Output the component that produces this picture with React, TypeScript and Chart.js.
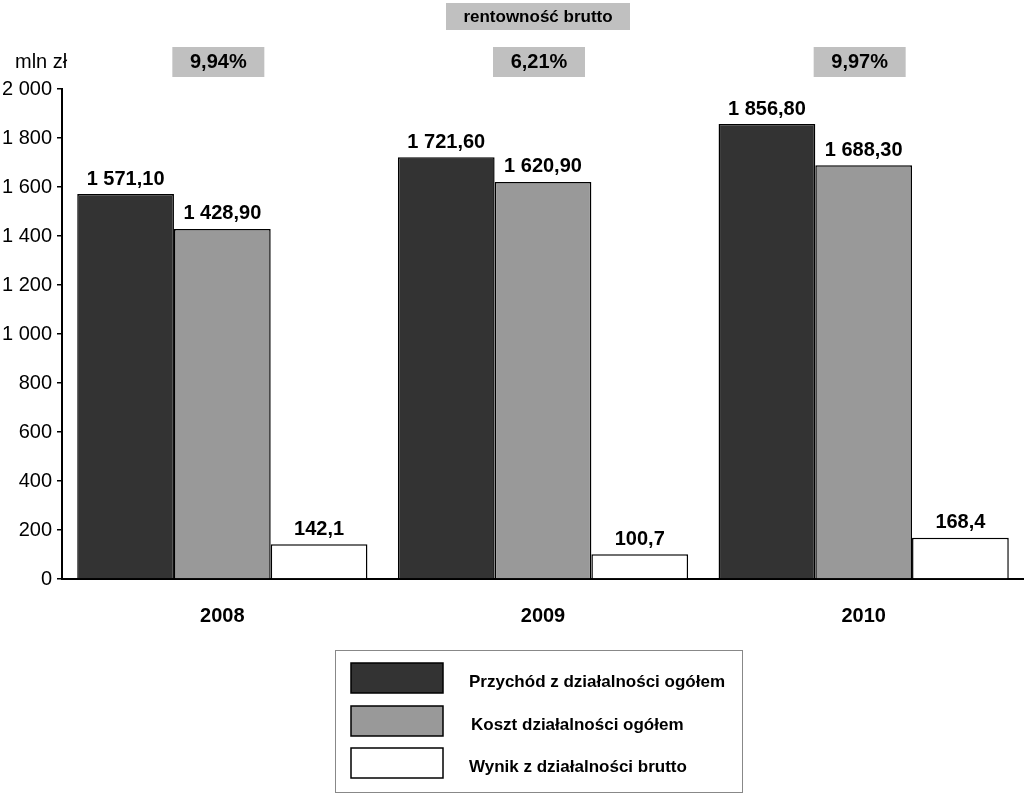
import React, { useEffect, useRef } from "react";
import { Chart, registerables } from "chart.js";

Chart.register(...registerables);

const categories = ["2008", "2009", "2010"];
const seriesNames = [
  "Przychód z działalności ogółem",
  "Koszt działalności ogółem",
  "Wynik z działalności brutto",
];
const przychod = [1571.1, 1721.6, 1856.8];
const koszt = [1428.9, 1620.9, 1688.3];
const wynik = [142.1, 100.7, 168.4];
const labelDecimals = [2, 2, 1];
const rentownosc = ["9,94%", "6,21%", "9,97%"];
const rentownoscTitle = "rentowność brutto";
const unitLabel = "mln zł";
const yMin = 0;
const yMax = 2000;
const yStep = 200;

const FONT = "'Liberation Sans', Arial, sans-serif";
const colors = ["#333333", "#999999", "#ffffff"];

function fmt(v: number, d: number): string {
  const [i, f] = v.toFixed(d).split(".");
  const int = i.replace(/\B(?=(\d{3})+(?!\d))/g, " ");
  return f ? int + "," + f : int;
}

const overlayPlugin = {
  id: "overlay",
  afterDatasetsDraw(chart: any) {
    const ctx = chart.ctx;
    ctx.save();
    ctx.font = `bold 20px ${FONT}`;
    ctx.fillStyle = "#000";
    ctx.textAlign = "center";
    ctx.textBaseline = "bottom";
    chart.data.datasets.forEach((ds: any, di: number) => {
      const meta = chart.getDatasetMeta(di);
      meta.data.forEach((bar: any, i: number) => {
        ctx.fillText(fmt(ds.data[i], labelDecimals[di]), bar.x, bar.y - 5);
      });
    });
    ctx.restore();
  },
  afterDraw(chart: any) {
    const ctx = chart.ctx;
    const xs = chart.scales.x;
    ctx.save();
    // title box
    ctx.fillStyle = "#c0c0c0";
    ctx.fillRect(446, 3, 184, 27);
    ctx.fillStyle = "#000";
    ctx.font = `bold 17px ${FONT}`;
    ctx.textAlign = "center";
    ctx.textBaseline = "middle";
    ctx.fillText(rentownoscTitle, 538, 17);
    // percent boxes
    rentownosc.forEach((t, i) => {
      const cx = xs.getPixelForValue(i) - 4;
      ctx.fillStyle = "#c0c0c0";
      ctx.fillRect(cx - 46, 47, 92, 30);
      ctx.fillStyle = "#000";
      ctx.font = `bold 20px ${FONT}`;
      ctx.fillText(t, cx, 62);
    });
    // unit
    ctx.font = `20px ${FONT}`;
    ctx.textAlign = "left";
    ctx.fillText(unitLabel, 15, 62);
    // legend
    ctx.strokeStyle = "#888";
    ctx.lineWidth = 1;
    ctx.strokeRect(335.5, 650.5, 407, 142);
    const ys = [663, 706, 748];
    const tx = [469, 471, 469];
    chart.data.datasets.forEach((ds: any, di: number) => {
      ctx.fillStyle = ds.backgroundColor;
      ctx.fillRect(351, ys[di], 92, 30);
      ctx.strokeStyle = "#000";
      ctx.lineWidth = 1.5;
      ctx.strokeRect(351, ys[di], 92, 30);
      ctx.fillStyle = "#000";
      ctx.font = `bold 17px ${FONT}`;
      ctx.textAlign = "left";
      ctx.textBaseline = "middle";
      ctx.fillText(ds.label, tx[di], ys[di] + 19);
    });
    ctx.restore();
  },
};

export default function App() {
  const ref = useRef<HTMLCanvasElement>(null);
  useEffect(() => {
    if (!ref.current) return;
    const chart = new Chart(ref.current, {
      type: "bar",
      data: {
        labels: categories,
        datasets: [przychod, koszt, wynik].map((d, i) => ({
          label: seriesNames[i],
          data: d,
          backgroundColor: colors[i],
          borderColor: "#000",
          borderWidth: 1.5,
          categoryPercentage: 0.905,
          barPercentage: 1,
        })),
      },
      options: {
        responsive: false,
        animation: false,
        layout: { padding: { top: 89, right: 0, left: 0, bottom: 0 } },
        plugins: { legend: { display: false }, tooltip: { enabled: false } },
        scales: {
          x: {
            grid: { drawOnChartArea: false, drawTicks: false },
            border: { color: "#000", width: 2 },
            ticks: {
              color: "#000",
              font: { family: FONT, size: 20, weight: "bold" },
              padding: 25,
            },
            afterFit: (s: any) => {
              s.height = 793 - 579;
            },
          },
          y: {
            min: yMin,
            max: yMax,
            grid: {
              drawOnChartArea: false,
              drawTicks: true,
              tickLength: 5,
              color: "#000",
              lineWidth: 1.5,
            },
            border: { color: "#000", width: 2 },
            ticks: {
              stepSize: yStep,
              color: "#000",
              padding: 5,
              font: { family: FONT, size: 20 },
              callback: (v: any) => fmt(Number(v), 0),
            },
            afterFit: (s: any) => {
              s.width = 62;
            },
          },
        },
      },
      plugins: [overlayPlugin],
    });
    return () => chart.destroy();
  }, []);
  return (
    <div style={{ position: "fixed", left: 0, top: 0, width: 1024, height: 793, background: "#fff" }}>
      <canvas ref={ref} width={1024} height={793} />
    </div>
  );
}
